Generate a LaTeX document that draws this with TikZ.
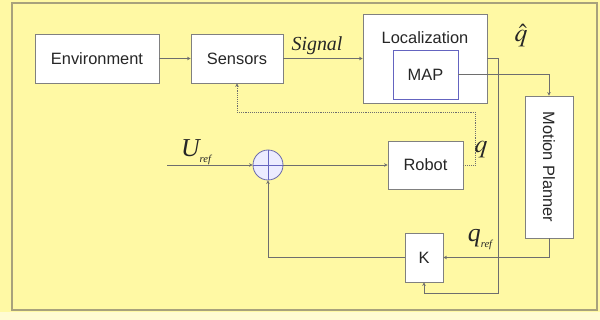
\documentclass[tikz,border=0pt]{standalone}
\usepackage{mathptmx}
\usepackage[no-math]{fontspec}
\setmainfont{Liberation Sans}
\newfontfamily\tms{Liberation Serif}
\usepackage{xcolor}
\usetikzlibrary{arrows.meta}

\definecolor{bgyellow}{HTML}{FFF9A4}
\definecolor{paleyellow}{HTML}{FFFBD2}
\definecolor{framegray}{HTML}{A8A27C}
\definecolor{wiregray}{HTML}{6E6E6E}
\definecolor{mapblue}{HTML}{6464C0}
\definecolor{sumfill}{HTML}{ECECFF}

\newcommand{\refsub}{\raisebox{-0.5ex}{\fontsize{9}{10}\selectfont\tms\itshape ref}}

\tikzset{
  block/.style={draw=gray, fill=white, line width=0.7pt, inner sep=0pt,
    font=\fontsize{14}{16}\selectfont, text=black!85},
  wire/.style={draw=wiregray, line width=0.6pt, -{Stealth[length=3pt,width=3pt]}},
  mathlbl/.style={font=\fontsize{22}{24}\selectfont\tms\itshape, text=black!85, inner sep=1pt}
}

\begin{document}
\begin{tikzpicture}[x=0.03cm, y=-0.03cm]
             \useasboundingbox (0,0) rectangle (600,320);
             \fill[bgyellow] (0,0) rectangle (600,320);
             \fill[paleyellow] (0,312) rectangle (600,320);
             \draw[framegray, line width=1.2pt] (12,3) rectangle (597,310);

             % blocks
             \node[block, minimum width=3.72cm, minimum height=1.47cm] (env) at (97,58.5) {Environment};
             \node[block, minimum width=2.76cm, minimum height=1.47cm] (sens) at (237,58.5) {Sensors};
             \node[block, minimum width=3.72cm, minimum height=2.67cm] (loc) at (425,58.5) {};
             \node[font=\fontsize{14}{16}\selectfont, text=black!85] (loctext) at (425,38) {Localization};
             \node[block, draw=mapblue, minimum width=1.95cm, minimum height=1.47cm] (map) at (425.5,74.5) {MAP};
             \node[block, minimum width=1.44cm, minimum height=4.26cm] (mp) at (549,167) {};
             \node[rotate=-90, font=\fontsize{14}{16}\selectfont, text=black!85] (mptext) at (mp) {Motion Planner};
             \node[block, minimum width=2.25cm, minimum height=1.44cm] (robot) at (425.5,165) {Robot};
             \node[block, minimum width=1.14cm, minimum height=1.47cm] (k) at (424,257.5) {K};
             \node[circle, draw=mapblue!70!gray, fill=sumfill, line width=0.7pt, minimum size=0.9cm, inner sep=0pt] (sum) at (268,165) {};
             \draw[mapblue, line width=0.6pt] (sum.north) -- (sum.south) (sum.west) -- (sum.east);

             \coordinate (uin) at (167,165);
             \coordinate (c1) at (498,293);
             \coordinate (d1) at (475,112);

             % connectors
             \draw[wire] (env) -- (sens);
             \draw[wire] (sens) -- (loc);
             \draw[wire] (map.east) -| (mp.north);
             \draw[wire] (loc.east) -| (c1) -| (k.south);
             \draw[wire] (mp.south) |- (k.east);
             \draw[wire] (k.west) -| (sum.south);
             \draw[wire] (uin) -- (sum.west);
             \draw[wire] (sum.east) -- (robot.west);
             \draw[wire, densely dotted] (robot.east) -| (d1) -| (sens.south);

             % labels
             \node[font=\fontsize{17}{19}\selectfont\tms\itshape, text=black!85] (siglbl) at (317,46) {Signal};
             \node[mathlbl] (qhat) at (521,36) {$\hat{q}$};
             \node[mathlbl] (qlbl) at (481,150) {$q$};
             \node[mathlbl] (ureflbl) at (196,152) {U\refsub};
             \node[mathlbl] (qreflbl) at (480,240) {q\refsub};
\end{tikzpicture}
\end{document}
